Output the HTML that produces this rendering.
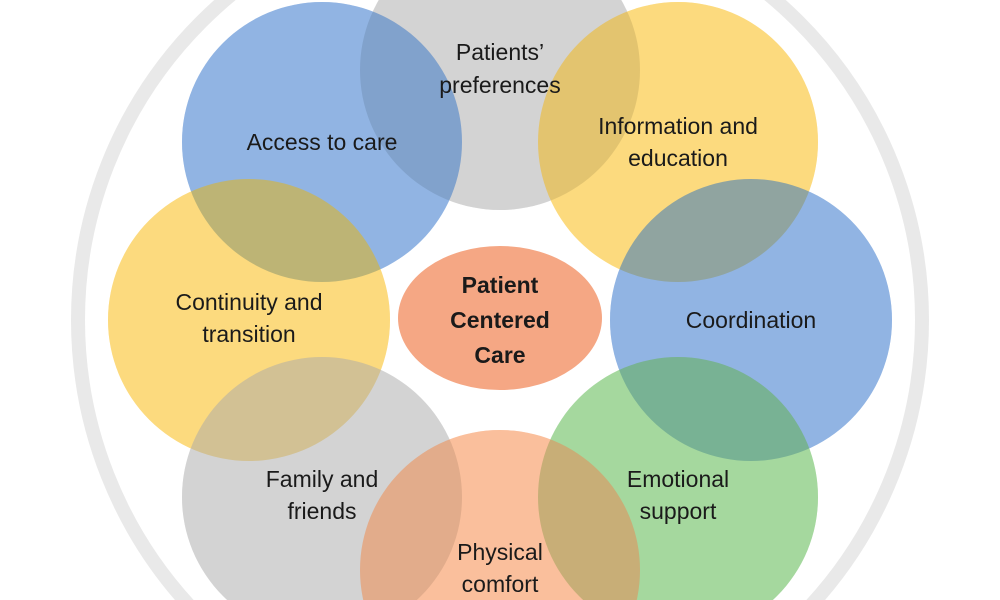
<!DOCTYPE html>
<html><head><meta charset="utf-8"><style>
html,body{margin:0;padding:0;background:#fff;width:1000px;height:600px;overflow:hidden}
svg{display:block;overflow:hidden}
text{font-family:"Liberation Sans",sans-serif;fill:#1a1a1a;font-size:23px;text-anchor:middle}
.m circle{mix-blend-mode:multiply}
</style></head><body>
<svg width="1000" height="600" viewBox="0 0 1000 600">
<circle cx="500" cy="320" r="422" fill="none" stroke="#e9e9e9" stroke-width="14"/>
<g>
<circle cx="500" cy="70" r="140" fill="#c8c8c8" fill-opacity="0.8"/>
<circle cx="322" cy="142" r="140" fill="#78a2dc" fill-opacity="0.8"/>
<circle cx="678" cy="142" r="140" fill="#fbd160" fill-opacity="0.8"/>
<circle cx="249" cy="320" r="141" fill="#fbd160" fill-opacity="0.8"/>
<circle cx="751" cy="320" r="141" fill="#78a2dc" fill-opacity="0.8"/>
<circle cx="322" cy="497" r="140" fill="#c8c8c8" fill-opacity="0.8"/>
<circle cx="678" cy="497" r="140" fill="#8fce86" fill-opacity="0.8"/>
<circle cx="500" cy="570" r="140" fill="#f9b086" fill-opacity="0.8"/>
</g>
<g class="m" opacity="0.45">
<circle cx="500" cy="70" r="140" fill="#d4d4d4"/>
<circle cx="322" cy="142" r="140" fill="#8fb4e3"/>
<circle cx="678" cy="142" r="140" fill="#fcda7c"/>
<circle cx="249" cy="320" r="141" fill="#fcda7c"/>
<circle cx="751" cy="320" r="141" fill="#8fb4e3"/>
<circle cx="322" cy="497" r="140" fill="#d4d4d4"/>
<circle cx="678" cy="497" r="140" fill="#a6d8a0"/>
<circle cx="500" cy="570" r="140" fill="#fbbf9a"/>
</g>
<ellipse cx="500" cy="318" rx="102" ry="72" fill="#f5a784"/>
<text x="500" y="60">Patients’</text>
<text x="500" y="93">preferences</text>
<text x="322" y="150">Access to care</text>
<text x="678" y="134">Information and</text>
<text x="678" y="166">education</text>
<text x="249" y="310">Continuity and</text>
<text x="249" y="342">transition</text>
<text x="751" y="328">Coordination</text>
<text x="322" y="487">Family and</text>
<text x="322" y="519">friends</text>
<text x="678" y="487">Emotional</text>
<text x="678" y="519">support</text>
<text x="500" y="560">Physical</text>
<text x="500" y="592">comfort</text>
<text x="500" y="293" font-weight="bold" font-size="24">Patient</text>
<text x="500" y="328" font-weight="bold" font-size="24">Centered</text>
<text x="500" y="363" font-weight="bold" font-size="24">Care</text>
</svg>
</body></html>
